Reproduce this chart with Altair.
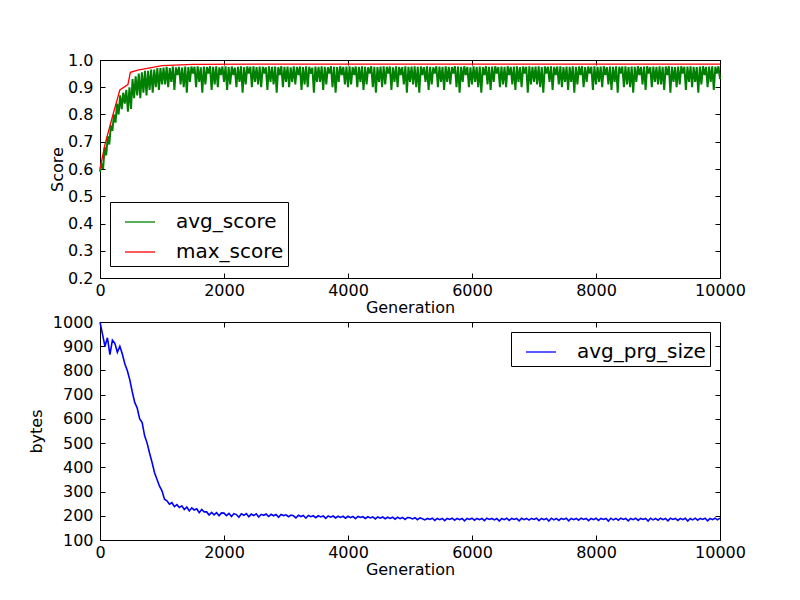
import altair as alt
import pandas as pd

# ---------------- data ----------------
avg_step = 25
avg_score = [
    0.59, 0.62, 0.60, 0.68, 0.65, 0.72, 0.69, 0.76, 0.74, 0.80,
    0.77, 0.84, 0.80, 0.87, 0.82, 0.88, 0.84, 0.89, 0.81, 0.90,
    0.82, 0.93, 0.86, 0.94, 0.87, 0.95, 0.86, 0.955, 0.88, 0.96,
    0.87, 0.96, 0.89, 0.965, 0.88, 0.965, 0.90, 0.97, 0.89, 0.97,
    0.91,
    0.972, 0.91, 0.975, 0.90, 0.970, 0.92, 0.976, 0.89, 0.973, 0.945, 0.975, 0.91, 0.972, 0.90, 0.976, 0.88, 0.974, 0.92, 0.976, 0.95,
    0.975, 0.90, 0.977, 0.92, 0.973, 0.88, 0.976, 0.91, 0.974, 0.95, 0.977, 0.89, 0.975, 0.91, 0.977, 0.90, 0.973, 0.945, 0.976, 0.92,
    0.977, 0.89, 0.974, 0.91, 0.976, 0.945, 0.972, 0.90, 0.975, 0.92, 0.977, 0.88, 0.974, 0.91, 0.976, 0.95, 0.975, 0.90, 0.977, 0.92,
    0.974, 0.91, 0.976, 0.90, 0.975, 0.95, 0.973, 0.89, 0.977, 0.92, 0.975, 0.91, 0.976, 0.88, 0.974, 0.945, 0.977, 0.90, 0.975, 0.92,
    0.976, 0.90, 0.973, 0.92, 0.977, 0.91, 0.975, 0.945, 0.976, 0.89, 0.974, 0.91, 0.977, 0.90, 0.975, 0.95, 0.972, 0.88, 0.976, 0.92,
    0.975, 0.92, 0.977, 0.89, 0.975, 0.91, 0.973, 0.95, 0.977, 0.90, 0.975, 0.88, 0.974, 0.92, 0.977, 0.945, 0.975, 0.91, 0.976, 0.90,
    0.977, 0.91, 0.974, 0.945, 0.976, 0.90, 0.975, 0.92, 0.977, 0.89, 0.975, 0.91, 0.973, 0.95, 0.977, 0.90, 0.975, 0.88, 0.974, 0.92,
    0.976, 0.90, 0.977, 0.91, 0.975, 0.95, 0.976, 0.89, 0.973, 0.92, 0.977, 0.90, 0.975, 0.945, 0.974, 0.91, 0.977, 0.88, 0.975, 0.92,
    0.976, 0.91, 0.977, 0.90, 0.975, 0.88, 0.976, 0.945, 0.974, 0.92, 0.977, 0.89, 0.975, 0.91, 0.973, 0.95, 0.977, 0.90, 0.976, 0.92,
    0.975, 0.89, 0.977, 0.92, 0.975, 0.91, 0.974, 0.95, 0.977, 0.90, 0.976, 0.88, 0.975, 0.92, 0.977, 0.945, 0.975, 0.90, 0.973, 0.91,
    0.977, 0.92, 0.975, 0.90, 0.976, 0.88, 0.974, 0.945, 0.977, 0.91, 0.975, 0.89, 0.976, 0.92, 0.977, 0.95, 0.974, 0.90, 0.976, 0.91,
    0.975, 0.90, 0.977, 0.945, 0.975, 0.91, 0.976, 0.89, 0.977, 0.92, 0.974, 0.90, 0.976, 0.95, 0.975, 0.88, 0.977, 0.91, 0.975, 0.92,
    0.976, 0.91, 0.977, 0.90, 0.974, 0.88, 0.976, 0.95, 0.975, 0.92, 0.977, 0.89, 0.975, 0.945, 0.976, 0.91, 0.977, 0.90, 0.974, 0.92,
    0.976, 0.89, 0.975, 0.92, 0.977, 0.88, 0.975, 0.91, 0.976, 0.945, 0.977, 0.90, 0.974, 0.92, 0.976, 0.95, 0.975, 0.89, 0.977, 0.91,
    0.975, 0.92, 0.976, 0.90, 0.977, 0.945, 0.974, 0.91, 0.976, 0.89, 0.975, 0.92, 0.977, 0.88, 0.975, 0.95, 0.976, 0.90, 0.977, 0.91,
    0.974, 0.90, 0.976, 0.88, 0.975, 0.92, 0.977, 0.945, 0.975, 0.91, 0.976, 0.89, 0.977, 0.95, 0.974, 0.90, 0.976, 0.92, 0.975, 0.91,
    0.977, 0.91, 0.975, 0.89, 0.976, 0.945, 0.977, 0.88, 0.975, 0.92, 0.974, 0.90, 0.976, 0.91, 0.977, 0.95, 0.975, 0.89, 0.976, 0.92,
    0.977, 0.90, 0.975, 0.92, 0.974, 0.88, 0.976, 0.91, 0.977, 0.945, 0.975, 0.90, 0.976, 0.92, 0.977, 0.89, 0.975, 0.95, 0.977, 0.93,
]

max_gen = [0, 80, 210, 320, 450, 490, 610, 1000, 1500, 3000, 10000]
max_score = [0.60, 0.69, 0.80, 0.89, 0.91, 0.955, 0.963, 0.979, 0.984, 0.985, 0.985]

bytes_step = 40
avg_prg_size = [
    1000, 950, 900, 935, 865, 925, 912, 875, 900, 868, 828, 800, 762, 712, 668, 645, 600, 585, 530, 500, 458, 420, 378, 350, 322,
    303, 268, 262, 248, 254, 238, 246, 234, 241, 226, 236, 220, 233, 224, 229, 213, 226, 216, 216, 203, 214, 204, 213, 200, 212,
    211, 201, 210, 197, 209, 205, 194, 208, 202, 209, 196, 207, 201, 208, 195, 206, 202, 207, 197, 206, 200, 205, 194, 205, 201,
    204, 196, 203, 200, 191, 202, 197, 201, 190, 201, 196, 200, 192, 200, 195, 199, 189, 199, 194, 199, 191, 198, 193, 198, 190,
    198, 192, 197, 188, 197, 193, 196, 189, 196, 191, 195, 187, 195, 190, 195, 188, 194, 189, 194, 186, 194, 188, 193, 185, 193,
    192, 187, 192, 184, 191, 188, 183, 189, 185, 190, 181, 189, 184, 189, 180, 189, 185, 190, 182, 189, 184, 189, 179, 189, 185,
    190, 182, 189, 184, 189, 180, 190, 185, 189, 183, 189, 178, 189, 184, 190, 181, 189, 185, 189, 179, 190, 184, 189, 182, 189,
    185, 190, 180, 189, 184, 189, 178, 190, 183, 189, 181, 189, 185, 190, 179, 189, 184, 189, 182, 190, 185, 189, 180, 189, 184,
    190, 181, 189, 185, 189, 178, 190, 183, 189, 182, 190, 185, 189, 179, 189, 184, 190, 181, 189, 185, 189, 178, 190, 183, 189,
    182, 190, 184, 189, 179, 190, 185, 189, 181, 189, 184, 190, 178, 189, 183, 190, 182, 189, 185, 190, 179, 189, 184, 190, 183,
    190,
]

x_ticks = [0, 2000, 4000, 6000, 8000, 10000]
score_ticks = [0.2, 0.3, 0.4, 0.5, 0.6, 0.7, 0.8, 0.9, 1.0]
bytes_ticks = [100, 200, 300, 400, 500, 600, 700, 800, 900, 1000]

# ---------------- tables ----------------
df_avg = pd.DataFrame({"gen": [i * avg_step for i in range(len(avg_score))],
                       "value": avg_score, "series": "avg_score"})
df_max = pd.DataFrame({"gen": max_gen, "value": max_score, "series": "max_score"})
df_bytes = pd.DataFrame({"gen": [i * bytes_step for i in range(len(avg_prg_size))],
                         "value": avg_prg_size, "series": "avg_prg_size"})

W, H = 620, 218
FONT = "DejaVu Sans"


def inner_axes(ticks):
    return dict(values=ticks, labels=False, domain=False, grid=False,
                ticks=True, tickSize=5, tickColor="black")


def panel(layers_df, widths, color_domain, color_range, y_domain, y_ticks, y_fmt, y_title,
          legend, y_title_pad):
    xs = alt.Scale(domain=[0, 10000], nice=False, zero=False)
    ys = alt.Scale(domain=y_domain, nice=False, zero=False)
    cs = alt.Scale(domain=color_domain, range=color_range)

    ax_x_main = alt.Axis(orient="bottom", values=x_ticks, format="d", ticks=False,
                         domain=False, grid=False, labelPadding=4, titlePadding=1,
                         labelFlush=False, labelOverlap=False)
    ax_y_main = alt.Axis(orient="left", values=y_ticks, format=y_fmt, ticks=False,
                         domain=False, grid=False, labelPadding=7, titlePadding=y_title_pad,
                         labelFlush=False, labelOverlap=False)
    ax_x_in_bottom = alt.Axis(orient="top", offset=-H, **inner_axes(x_ticks))
    ax_x_in_top = alt.Axis(orient="bottom", offset=-H, **inner_axes(x_ticks))
    ax_y_in_left = alt.Axis(orient="right", offset=-W, **inner_axes(y_ticks))
    ax_y_in_right = alt.Axis(orient="left", offset=-W, **inner_axes(y_ticks))

    first = layers_df[0]
    layers = [
        alt.Chart(first).mark_line(strokeWidth=widths[0]).encode(
            x=alt.X("gen:Q", scale=xs, axis=ax_x_main, title="Generation"),
            y=alt.Y("value:Q", scale=ys, axis=ax_y_main, title=y_title),
            color=alt.Color("series:N", scale=cs, legend=legend),
            order=alt.Order("gen:Q"),
        )
    ]
    if len(layers_df) > 1:
        second = layers_df[1]
        layers.append(
            alt.Chart(second).mark_line(strokeWidth=widths[1]).encode(
                x=alt.X("gen:Q", scale=xs, axis=ax_x_in_bottom, title=None),
                y=alt.Y("value:Q", scale=ys, axis=ax_y_in_left, title=None),
                color=alt.Color("series:N", scale=cs, legend=legend),
                order=alt.Order("gen:Q"),
            )
        )
        layers.append(
            alt.Chart(second).mark_line(strokeOpacity=0).encode(
                x=alt.X("gen:Q", scale=xs, axis=ax_x_in_top, title=None),
                y=alt.Y("value:Q", scale=ys, axis=ax_y_in_right, title=None),
            )
        )
    else:
        layers.append(
            alt.Chart(first).mark_line(strokeOpacity=0).encode(
                x=alt.X("gen:Q", scale=xs, axis=ax_x_in_bottom, title=None),
                y=alt.Y("value:Q", scale=ys, axis=ax_y_in_left, title=None),
            )
        )
        layers.append(
            alt.Chart(first).mark_line(strokeOpacity=0).encode(
                x=alt.X("gen:Q", scale=xs, axis=ax_x_in_top, title=None),
                y=alt.Y("value:Q", scale=ys, axis=ax_y_in_right, title=None),
            )
        )
    return alt.layer(*layers).resolve_axis(x="independent", y="independent").properties(
        width=W, height=H)


def make_legend(lx, ly):
    return alt.Legend(orient="none", legendX=lx, legendY=ly, title=None,
                      symbolType="stroke", symbolSize=900, symbolStrokeWidth=1.3,
                      labelFont=FONT, labelFontSize=20, labelColor="black",
                      strokeColor="black", fillColor="white", padding=4,
                      symbolOffset=10, labelOffset=20, rowPadding=4, cornerRadius=0)


top = panel([df_avg, df_max], [2.0, 1.3], ["avg_score", "max_score"], ["#008000", "#ff0000"],
            [0.2, 1.0], score_ticks, ".1f", "Score", make_legend(10, 142), 2)
bottom = panel([df_bytes], [1.6], ["avg_prg_size"], ["#0000ff"],
               [100, 1000], bytes_ticks, "d", "bytes", make_legend(411, 10), 8)

chart = alt.vconcat(top, bottom, spacing=-3).resolve_scale(color="independent").properties(
    padding={"left": 19, "top": 43, "right": 5, "bottom": 5}
).configure_view(stroke="black", strokeWidth=1).configure_axis(
    labelFont=FONT, titleFont=FONT, labelFontSize=16, titleFontSize=16,
    titleFontWeight="normal", labelColor="black", titleColor="black"
)

chart.save("out.html", embed_options={"renderer": "svg", "actions": False})
